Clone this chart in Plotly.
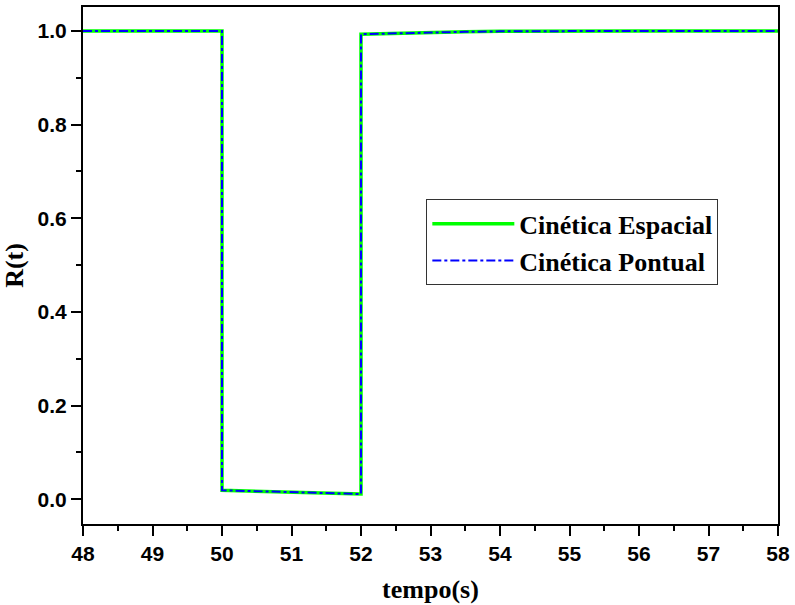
import plotly.graph_objects as go

# Data
tempo = [48.0, 49.0, 50.0, 50.0, 50.5, 51.0, 51.5, 52.0, 52.0, 52.5, 53.0, 53.5, 54.0, 55.0, 56.0, 57.0, 58.0]
r_espacial = [1.0, 1.0, 1.0, 0.019, 0.017, 0.015, 0.013, 0.011, 0.993, 0.995, 0.997, 0.998, 0.999, 1.0, 1.0, 1.0, 1.0]
r_pontual = [1.0, 1.0, 1.0, 0.019, 0.017, 0.015, 0.013, 0.011, 0.993, 0.995, 0.997, 0.998, 0.999, 1.0, 1.0, 1.0, 1.0]
x_ticks = [48, 49, 50, 51, 52, 53, 54, 55, 56, 57, 58]
y_ticks = [0.0, 0.2, 0.4, 0.6, 0.8, 1.0]
y_tick_labels = ["0.0", "0.2", "0.4", "0.6", "0.8", "1.0"]

fig = go.Figure()
fig.add_trace(go.Scatter(x=tempo, y=r_espacial, mode="lines", name="Cinética Espacial",
                         line=dict(color="#00ff00", width=3.5)))
fig.add_trace(go.Scatter(x=tempo, y=r_pontual, mode="lines", name="Cinética Pontual",
                         line=dict(color="#0000ff", width=2, dash="dashdot")))

tickfont = dict(family="Liberation Sans, Arial", size=21, color="black", weight="bold")
titlefont = dict(family="Liberation Serif, Times New Roman", size=26, color="black", weight="bold")

fig.update_layout(
    width=795, height=605,
    margin=dict(l=83, r=14, t=5, b=81),
    plot_bgcolor="white", paper_bgcolor="white",
    showlegend=True,
    legend=dict(x=0.494, y=0.628, xanchor="left", yanchor="top",
                bordercolor="#333333", borderwidth=1, bgcolor="white",
                font=dict(family="Liberation Serif, Times New Roman", size=26, color="black", weight="bold"),
                tracegroupgap=0, itemwidth=82),
    xaxis=dict(range=[48, 58], tickvals=x_ticks, ticktext=[str(v) for v in x_ticks],
               showgrid=False, zeroline=False, showline=True, linecolor="black", linewidth=2,
               mirror=True, ticks="outside", ticklen=10, tickwidth=2, tickcolor="black",
               minor=dict(ticks="outside", ticklen=5, tickwidth=2, tickcolor="black", dtick=0.5, showgrid=False),
               tickfont=tickfont,
               title=dict(text="tempo(s)", font=titlefont, standoff=16)),
    yaxis=dict(range=[-0.053, 1.051], tickvals=y_ticks, ticktext=y_tick_labels,
               showgrid=False, zeroline=False, showline=True, linecolor="black", linewidth=2,
               mirror=True, ticks="outside", ticklen=10, tickwidth=2, tickcolor="black",
               minor=dict(ticks="outside", ticklen=5, tickwidth=2, tickcolor="black", dtick=0.1, showgrid=False),
               tickfont=tickfont,
               title=dict(text="R(t)", font=titlefont, standoff=8)),
)

fig.write_html("out.html", config={"displayModeBar": False},
               post_script="document.body.style.margin='0';document.body.style.overflow='hidden';")
